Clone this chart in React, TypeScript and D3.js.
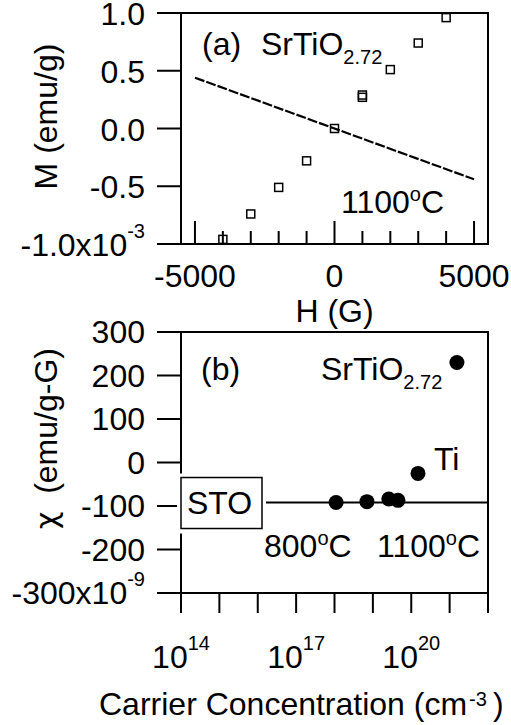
import React from "react";
import * as d3 from "d3";

// panel (a): M vs H, SrTiO2.72 annealed at 1100C
const fieldH = [-4000, -3000, -2000, -1000, 0, 1000, 1000, 2000, 3000, 4000];
const magM = [-0.96, -0.74, -0.51, -0.28, 0.0, 0.27, 0.29, 0.51, 0.74, 0.96];
const bgH = [-5000, 5000];
const bgM = [0.44, -0.44];
const aYTicks = [1.0, 0.5, 0.0, -0.5, -1.0];
const aXLabels = [-5000, 0, 5000];

// panel (b): susceptibility vs carrier concentration
const carrier = [1.1e18, 7e18, 2.6e19, 4.5e19, 1.5e20, 1.55e21];
const chi = [-92, -90, -84, -87, -25, 230];
const stoChi = -92;
const bYTicks = [300, 200, 100, 0, -100, -200, -300];
const bXLabelExp = [14, 17, 20];

const font = "'Liberation Sans', Arial, Helvetica, sans-serif";
const W = 511;
const H = 725;

export default function App() {
  const L = 181, R = 488;
  const xa = d3.scaleLinear().domain([-5500, 5500]).range([L, R]);
  const ya = d3.scaleLinear().domain([-1, 1]).range([244, 13]);
  const xb = d3.scaleLog().domain([1e14, 1e22]).range([L, R]);
  const yb = d3.scaleLinear().domain([-300, 300]).range([593, 332]);

  const fitLine = d3.line<number>()
    .x((_, i) => xa(bgH[i]))
    .y((d) => ya(d))(bgM);

  const aMinor = d3.range(-5000, 5001, 1000);
  const bDecades = d3.range(14, 23).map((e) => Math.pow(10, e));
  const fs = 32;
  const sub = 20;

  const degC = (n: string) => (
    <>{n}<tspan dy={-12} fontSize={sub}>o</tspan><tspan dy={12}>C</tspan></>
  );

  return (
    <svg width={W} height={H} style={{ position: "absolute", left: 0, top: 0 }}
      fontFamily={font} fontSize={fs}>
      <rect width={W} height={H} fill="white" />

      {/* ---------- panel (a) ---------- */}
      <rect x={L} y={ya(1)} width={R - L} height={ya(-1) - ya(1)} fill="none" stroke="black" strokeWidth={2} />
      {aYTicks.map((t) => (
        <g key={t}>
          <line x1={L - 24} x2={L} y1={ya(t)} y2={ya(t)} stroke="black" strokeWidth={2} />
          <text x={145} y={ya(t) + 12} textAnchor="end">
            {t === -1 ? (
              <>-1.0x10<tspan dy={-18} fontSize={sub}>-3</tspan></>
            ) : t.toFixed(1)}
          </text>
        </g>
      ))}
      {aMinor.map((t) => (
        <line key={t} x1={xa(t)} x2={xa(t)} y1={ya(-1)} y2={ya(-1) - (t % 5000 === 0 ? 23 : 13)} stroke="black" strokeWidth={2} />
      ))}
      {aXLabels.map((t) => (
        <text key={t} x={xa(t)} y={287} textAnchor="middle">{t}</text>
      ))}
      <text x={xa(0)} y={322} textAnchor="middle">H (G)</text>
      <text transform={`translate(57,${(ya(1) + ya(-1)) / 2 - 12}) rotate(-90)`} textAnchor="middle">M (emu/g)</text>

      <path d={fitLine ?? ""} fill="none" stroke="black" strokeWidth={2.2} strokeDasharray="10,2" />
      {fieldH.map((h, i) => (
        <rect key={i} x={xa(h) - 4} y={ya(magM[i]) - 4} width={8} height={8} fill="none" stroke="black" strokeWidth={1.5} />
      ))}
      <text x={202} y={55}>(a)</text>
      <text x={261} y={55}>SrTiO<tspan dy={9} fontSize={sub}>2.72</tspan></text>
      <text x={341} y={213}>{degC("1100")}</text>

      {/* ---------- panel (b) ---------- */}
      <line x1={L} x2={R} y1={yb(stoChi)} y2={yb(stoChi)} stroke="black" strokeWidth={2} />
      <rect x={L} y={yb(300)} width={R - L} height={yb(-300) - yb(300)} fill="none" stroke="black" strokeWidth={2} />
      {bYTicks.map((t) => (
        <g key={t}>
          <line x1={L - 24} x2={L} y1={yb(t)} y2={yb(t)} stroke="black" strokeWidth={2} />
          <text x={145} y={yb(t) + 11} textAnchor="end">
            {t === -300 ? (
              <>-300x10<tspan dy={-18} fontSize={sub}>-9</tspan></>
            ) : t}
          </text>
        </g>
      ))}
      {bDecades.map((v, i) => (
        <line key={i} x1={xb(v)} x2={xb(v)} y1={yb(-300)} y2={yb(-300) + 20} stroke="black" strokeWidth={2} />
      ))}
      {bXLabelExp.map((e) => (
        <text key={e} x={xb(Math.pow(10, e))} y={668} textAnchor="middle">
          10<tspan dy={-18} fontSize={sub}>{e}</tspan>
        </text>
      ))}
      <text x={99} y={715}>
        Carrier Concentration (cm<tspan dy={-9} dx={2} fontSize={sub}>-3</tspan><tspan dy={9} dx={6}>)</tspan>
      </text>
      <text transform={`translate(57,${(yb(300) + yb(-300)) / 2 - 24}) rotate(-90)`} textAnchor="middle" xmlSpace="preserve">
        <tspan fontFamily="'DejaVu Sans', sans-serif" fontSize={30}>χ</tspan>  (emu/g-G)
      </text>

      {/* STO reference box */}
      <rect x={L - 4} y={yb(stoChi) - 29} width={89} height={60} fill="white" />
      <rect x={L} y={yb(stoChi) - 25} width={81} height={51} fill="white" stroke="black" strokeWidth={1.5} />
      <text x={L + 6} y={yb(stoChi) + 11}>STO</text>

      {carrier.map((c, i) => (
        <circle key={i} cx={xb(c)} cy={yb(chi[i])} r={7.5} fill="black" />
      ))}
      <text x={201} y={380}>(b)</text>
      <text x={321} y={380}>SrTiO<tspan dy={9} fontSize={sub}>2.72</tspan></text>
      <text x={434} y={470}>Ti</text>
      <text x={264} y={557}>{degC("800")}</text>
      <text x={377} y={557}>{degC("1100")}</text>
    </svg>
  );
}
